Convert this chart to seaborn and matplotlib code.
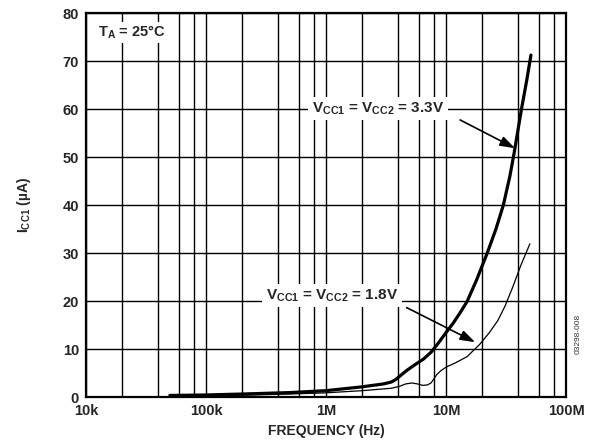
import numpy as np
import pandas as pd
import seaborn as sns
import matplotlib
matplotlib.use('Agg')
import matplotlib.pyplot as plt
from matplotlib.ticker import FixedLocator, NullFormatter

# Curve data (frequency in Hz, current in uA)
freq_33 = [5e4, 1e5, 2e5, 5e5, 1e6, 2e6, 3e6, 3.5e6, 3.8e6, 4.2e6, 4.7e6,
           5.5e6, 6.5e6, 7.5e6, 8.5e6, 1e7, 1.15e7, 1.3e7, 1.5e7, 1.8e7,
           2.2e7, 2.6e7, 3e7, 3.4e7, 3.7e7, 4.25e7, 4.7e7, 5.1e7]
icc_33 = [0.4, 0.5, 0.7, 1.0, 1.4, 2.2, 2.8, 3.2, 3.7, 4.6, 5.6,
          6.8, 8.0, 9.4, 11.1, 13.5, 15.5, 17.5, 20.0, 24.5,
          30.0, 35.0, 40.0, 46.0, 51.0, 60.0, 66.0, 71.3]

freq_18 = [5e4, 1e5, 2e5, 5e5, 1e6, 2e6, 3.5e6, 4.1e6, 4.6e6, 5.2e6, 5.8e6,
           6.4e6, 7.0e6, 7.5e6, 7.9e6, 8.4e6, 9e6, 1e7, 1.2e7, 1.5e7,
           1.9e7, 2.3e7, 2.7e7, 3.1e7, 3.6e7, 4.2e7, 5.0e7]
icc_18 = [0.2, 0.3, 0.45, 0.7, 0.95, 1.4, 1.9, 2.3, 2.8, 3.0, 2.8,
          2.5, 2.6, 3.0, 3.8, 4.8, 5.5, 6.3, 7.2, 8.5,
          11.0, 13.5, 16.0, 19.0, 23.0, 27.5, 32.0]

x_ticks = [1e4, 1e5, 1e6, 1e7, 1e8]
x_labels = ['10k', '100k', '1M', '10M', '100M']
y_ticks = [0, 10, 20, 30, 40, 50, 60, 70, 80]

df = pd.concat([
    pd.DataFrame({'freq': freq_33, 'icc': icc_33, 'supply': '3.3V'}),
    pd.DataFrame({'freq': freq_18, 'icc': icc_18, 'supply': '1.8V'}),
])

sns.set_style('white')
plt.rcParams['font.family'] = ['Liberation Sans', 'DejaVu Sans']
plt.rcParams['font.weight'] = 'bold'
plt.rcParams['mathtext.fontset'] = 'custom'
plt.rcParams['mathtext.rm'] = 'Liberation Sans:bold'
plt.rcParams['mathtext.it'] = 'Liberation Sans:bold'
plt.rcParams['mathtext.bf'] = 'Liberation Sans:bold'
plt.rcParams['mathtext.default'] = 'rm'

fig = plt.figure(figsize=(5.89, 4.45), dpi=100)
ax = fig.add_axes([0.146, 0.107, 0.815, 0.863])

sns.lineplot(data=df, x='freq', y='icc', hue='supply', size='supply',
             sizes={'3.3V': 2.3, '1.8V': 0.9},
             palette={'3.3V': 'black', '1.8V': 'black'},
             legend=False, ax=ax, zorder=3, sort=False)

ax.set_xscale('log')
ax.set_xlim(1e4, 1e8)
ax.set_ylim(0, 80)

# log grid at 1, 2, 4, 6, 8 per decade
minors = [m * 10.0**d for d in range(4, 8) for m in (2, 4, 6, 8)]
ax.xaxis.set_major_locator(FixedLocator(x_ticks))
ax.xaxis.set_minor_locator(FixedLocator(minors))
ax.xaxis.set_minor_formatter(NullFormatter())
ax.set_xticklabels(x_labels)
ax.set_yticks(y_ticks)
ax.grid(True, which='both', color='black', linewidth=1.0)
ax.tick_params(which='both', length=0, labelsize=10.5)
ax.tick_params(axis='x', pad=5)
ax.tick_params(axis='y', pad=5)
for lab in ax.get_xticklabels() + ax.get_yticklabels():
    lab.set_fontweight('bold')
for sp in ax.spines.values():
    sp.set_linewidth(1.6)
    sp.set_color('black')

ax.set_xlabel('FREQUENCY (Hz)', fontsize=10, fontweight='bold', labelpad=4)
ax.set_ylabel('I$_{CC1}$ (µA)', fontsize=10, fontweight='bold', labelpad=21)

ax.text(0.025, 0.95, 'T$_{A}$ = 25°C', transform=ax.transAxes,
        fontsize=10.5, fontweight='bold', va='center', ha='left', zorder=5,
        bbox=dict(facecolor='white', edgecolor='none', pad=1.5))

box = dict(facecolor='white', edgecolor='none', pad=2.5)
ax.text(2.71e6, 60.2, 'V$_{CC1}$ = V$_{CC2}$ = 3.3V', fontsize=11,
        fontweight='bold', ha='center', va='center', bbox=box, zorder=5)
ax.text(1.12e6, 21.2, 'V$_{CC1}$ = V$_{CC2}$ = 1.8V', fontsize=11,
        fontweight='bold', ha='center', va='center', bbox=box, zorder=5)

arrow = dict(arrowstyle='-|>,head_length=0.9,head_width=0.3', color='black',
             lw=1.2, shrinkA=0, shrinkB=0)
ax.annotate('', xy=(3.76e7, 51.9), xytext=(1.31e7, 57.8),
            arrowprops=arrow, zorder=6)
ax.annotate('', xy=(1.75e7, 11.5), xytext=(4.7e6, 18.7),
            arrowprops=arrow, zorder=6)

fig.text(0.982, 0.25, '03298-008', rotation=90, fontsize=6,
         fontweight='normal', color='#333333', ha='center', va='center')

fig.savefig('out.png', dpi=100)
